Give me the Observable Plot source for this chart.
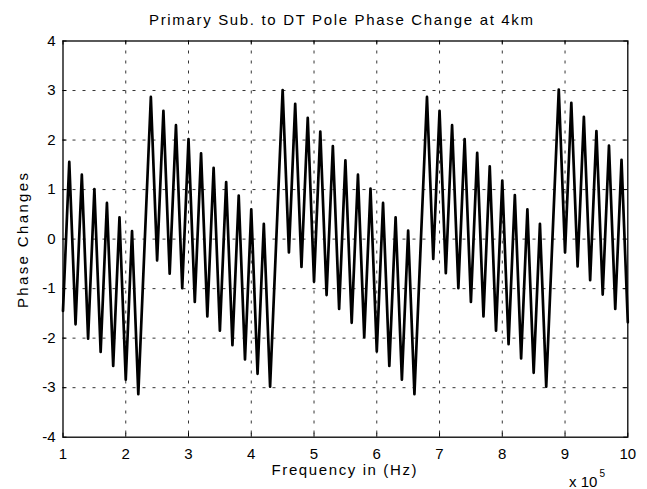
<!DOCTYPE html>
<html>
<head>
<meta charset="utf-8">
<script src="https://cdn.jsdelivr.net/npm/d3@7"></script>
<script src="https://cdn.jsdelivr.net/npm/@observablehq/plot@0.6"></script>
<style>
  html, body { margin: 0; padding: 0; background: #fff; }
  #chart svg { display: block; }
</style>
</head>
<body>
<div id="chart"></div>
<script>
// Frequency in units of 10^5 Hz
const freq = [1.0,1.1,1.2,1.3,1.4,1.5,1.6,1.7,1.8,1.9,
  2.0,2.1,2.2,2.3,2.4,2.5,2.6,2.7,2.8,2.9,
  3.0,3.1,3.2,3.3,3.4,3.5,3.6,3.7,3.8,3.9,
  4.0,4.1,4.2,4.3,4.4,4.5,4.6,4.7,4.8,4.9,
  5.0,5.1,5.2,5.3,5.4,5.5,5.6,5.7,5.8,5.9,
  6.0,6.1,6.2,6.3,6.4,6.5,6.6,6.7,6.8,6.9,
  7.0,7.1,7.2,7.3,7.4,7.5,7.6,7.7,7.8,7.9,
  8.0,8.1,8.2,8.3,8.4,8.5,8.6,8.7,8.8,8.9,
  9.0,9.1,9.2,9.3,9.4,9.5,9.6,9.7,9.8,9.9,
  10.0];
const phase = [-1.45,1.56,-1.72,1.30,-2.01,1.01,-2.28,0.73,-2.56,0.44,
  -2.84,0.16,-3.13,-0.12,2.87,-0.43,2.59,-0.70,2.30,-0.99,
  2.02,-1.27,1.73,-1.56,1.44,-1.85,1.15,-2.14,0.88,-2.43,
  0.60,-2.72,0.31,-2.98,0.03,3.01,-0.27,2.73,-0.56,2.45,
  -0.86,2.17,-1.13,1.88,-1.41,1.59,-1.69,1.30,-1.98,1.02,
  -2.27,0.73,-2.56,0.44,-2.84,0.17,-3.13,-0.11,2.87,-0.40,
  2.59,-0.69,2.30,-0.99,2.02,-1.27,1.74,-1.56,1.47,-1.85,
  1.18,-2.12,0.89,-2.41,0.60,-2.70,0.31,-2.98,0.03,3.02,
  -0.27,2.75,-0.55,2.47,-0.83,2.18,-1.12,1.89,-1.41,1.60,
  -1.68];
const xTicks = [1,2,3,4,5,6,7,8,9,10];
const yTicks = [-4,-3,-2,-1,0,1,2,3,4];
const title = "Primary Sub. to DT Pole Phase Change at 4km";
const xLabel = "Frequency in (Hz)";
const yLabel = "Phase Changes";

const data = freq.map((f, i) => ({f, p: phase[i]}));

const W = 647, H = 489;
const mL = 62.5, mR = 19.7, mT = 40.5, mB = 52.3;
const innerH = H - mT - mB, innerW = W - mL - mR;
const font = "Liberation Sans, Arial, sans-serif";

const chart = Plot.plot({
  width: W, height: H,
  marginLeft: mL, marginRight: mR, marginTop: mT, marginBottom: mB,
  style: {fontFamily: font, fontSize: "15px", color: "#000", background: "#fff"},
  x: {domain: [1, 10]},
  y: {domain: [-4, 4]},
  marks: [
    Plot.gridX(xTicks.slice(1, -1), {stroke: "#000", strokeOpacity: 1, strokeWidth: 0.8, strokeDasharray: "3,7"}),
    Plot.gridY(yTicks.slice(1, -1), {stroke: "#000", strokeOpacity: 1, strokeWidth: 0.8, strokeDasharray: "3,7"}),
    Plot.tickX(xTicks, {x: d => d, insetTop: innerH - 4, stroke: "#000"}),
    Plot.tickX(xTicks, {x: d => d, insetBottom: innerH - 4, stroke: "#000"}),
    Plot.tickY(yTicks, {y: d => d, insetRight: innerW - 4, stroke: "#000"}),
    Plot.tickY(yTicks, {y: d => d, insetLeft: innerW - 4, stroke: "#000"}),
    Plot.axisX(xTicks, {tickSize: 0, tickPadding: 11, tickFormat: d => String(d), label: null, fontSize: 15}),
    Plot.axisY(yTicks, {tickSize: 0, tickPadding: 7.5, tickFormat: d => String(d), label: null, fontSize: 15}),
    Plot.line(data, {x: "f", y: "p", stroke: "#000", strokeWidth: 2.7}),
    Plot.frame({stroke: "#000", strokeWidth: 1.3})
  ]
});

const svg = d3.select(chart);
svg.append("text")
  .attr("x", 341).attr("y", 25)
  .attr("text-anchor", "middle")
  .attr("font-family", font).attr("font-size", 15)
  .attr("textLength", 384).attr("lengthAdjust", "spacing")
  .text(title);
svg.append("text")
  .attr("x", 344).attr("y", 475)
  .attr("text-anchor", "middle")
  .attr("font-family", font).attr("font-size", 15)
  .attr("textLength", 145).attr("lengthAdjust", "spacing")
  .text(xLabel);
svg.append("text")
  .attr("transform", "translate(28,240.5) rotate(-90)")
  .attr("text-anchor", "middle")
  .attr("font-family", font).attr("font-size", 15)
  .attr("textLength", 135).attr("lengthAdjust", "spacing")
  .text(yLabel);
const exp = svg.append("text")
  .attr("x", 587).attr("y", 486.5)
  .attr("font-family", font).attr("font-size", 15);
exp.append("tspan").text("x 10");
exp.append("tspan").attr("font-size", 10).attr("dx", 2).attr("dy", -10).text("5");

document.getElementById("chart").appendChild(chart);
</script>
</body>
</html>
